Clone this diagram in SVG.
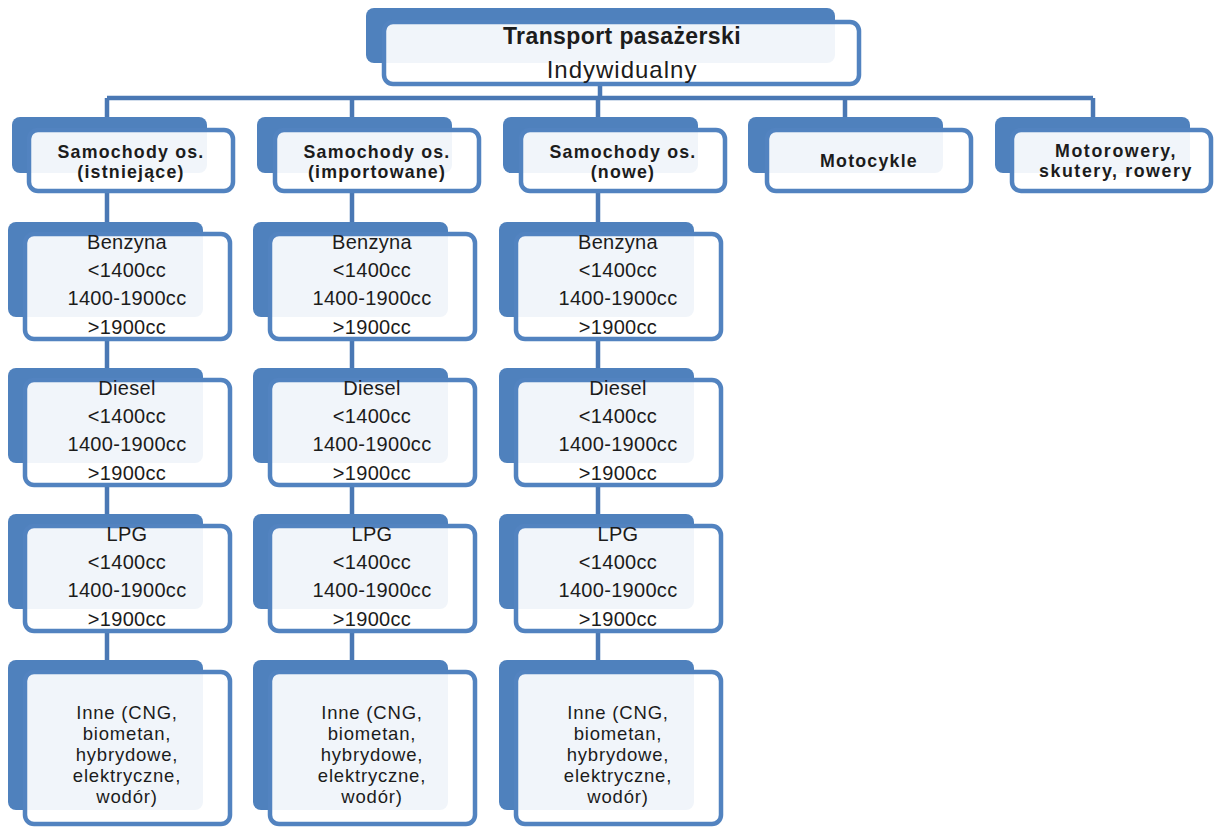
<svg xmlns="http://www.w3.org/2000/svg" width="1214" height="827" viewBox="0 0 1214 827">
<style>
.back{fill:#4f81bd}
.front{fill:#ffffff;fill-opacity:0.92;stroke:#5283c0;stroke-width:4.5}
.conn{stroke:#4a78b4;stroke-width:4.5;fill:none}
text{font-family:"Liberation Sans",Arial,sans-serif;fill:#1c1c1c;text-anchor:middle}
.t0{font-size:23px;font-weight:bold;letter-spacing:0.4px}
.t0r{font-size:24px;letter-spacing:1px}
.t1{font-size:17.8px;font-weight:bold;letter-spacing:1.2px}
.t1w{font-size:17.8px;font-weight:bold;letter-spacing:1.6px}
.tf{font-size:20px;letter-spacing:0.3px}
.ti{font-size:18.5px;letter-spacing:0.8px}
</style>
<rect width="1214" height="827" fill="#ffffff"/>
<g id="connectors">
<path class="conn" d="M600 84V98M107 98H1093M107 98V117M352 98V117M598 98V117M845 98V117M1093 98V117"/>
<path class="conn" d="M107 192V222M107 339V368M107 485V514M107 631V660"/>
<path class="conn" d="M352 192V222M352 339V368M352 485V514M352 631V660"/>
<path class="conn" d="M598 192V222M598 339V368M598 485V514M598 631V660"/>
</g>
<g id="top">
<rect class="back" x="366" y="8" width="469" height="55" rx="8"/>
<rect class="front" x="384" y="22" width="475" height="62" rx="9"/>
<text class="t0" x="622" y="44">Transport pasażerski</text>
<text class="t0r" x="622" y="78">Indywidualny</text>
</g>
<g id="l1-istniejace">
<rect class="back" x="12" y="117" width="195" height="56" rx="8"/>
<rect class="front" x="29" y="130" width="204" height="61" rx="9"/>
<text class="t1" x="131" y="158">Samochody os.</text>
<text class="t1" x="131" y="178">(istniejące)</text>
</g>
<g id="l1-importowane">
<rect class="back" x="257" y="117" width="195" height="56" rx="8"/>
<rect class="front" x="275" y="130" width="204" height="61" rx="9"/>
<text class="t1" x="377" y="158">Samochody os.</text>
<text class="t1" x="377" y="178">(importowane)</text>
</g>
<g id="l1-nowe">
<rect class="back" x="503" y="117" width="195" height="56" rx="8"/>
<rect class="front" x="521" y="130" width="204" height="61" rx="9"/>
<text class="t1" x="623" y="158">Samochody os.</text>
<text class="t1" x="623" y="178">(nowe)</text>
</g>
<g id="l1-motocykle">
<rect class="back" x="748" y="117" width="195" height="56" rx="8"/>
<rect class="front" x="767" y="130" width="204" height="61" rx="9"/>
<text class="t1" x="869" y="167">Motocykle</text>
</g>
<g id="l1-motorowery">
<rect class="back" x="995" y="117" width="195" height="56" rx="8"/>
<rect class="front" x="1012" y="130" width="199" height="61" rx="9"/>
<text class="t1w" x="1116" y="157">Motorowery,</text>
<text class="t1w" x="1116" y="177">skutery, rowery</text>
</g>
<!-- column 1 -->
<g id="c1-benzyna">
<rect class="back" x="8" y="222" width="195" height="95" rx="8"/>
<rect class="front" x="25" y="234" width="205" height="105" rx="9"/>
<text class="tf" x="127" y="249">Benzyna</text>
<text class="tf" x="127" y="277">&lt;1400cc</text>
<text class="tf" x="127" y="305">1400-1900cc</text>
<text class="tf" x="127" y="334">&gt;1900cc</text>
</g>
<g id="c1-diesel">
<rect class="back" x="8" y="368" width="195" height="95" rx="8"/>
<rect class="front" x="25" y="380" width="205" height="105" rx="9"/>
<text class="tf" x="127" y="395">Diesel</text>
<text class="tf" x="127" y="423">&lt;1400cc</text>
<text class="tf" x="127" y="451">1400-1900cc</text>
<text class="tf" x="127" y="480">&gt;1900cc</text>
</g>
<g id="c1-lpg">
<rect class="back" x="8" y="514" width="195" height="95" rx="8"/>
<rect class="front" x="25" y="526" width="205" height="105" rx="9"/>
<text class="tf" x="127" y="541">LPG</text>
<text class="tf" x="127" y="569">&lt;1400cc</text>
<text class="tf" x="127" y="597">1400-1900cc</text>
<text class="tf" x="127" y="626">&gt;1900cc</text>
</g>
<g id="c1-inne">
<rect class="back" x="8" y="660" width="195" height="150" rx="8"/>
<rect class="front" x="25" y="672" width="205" height="152" rx="9"/>
<text class="ti" x="127" y="719">Inne (CNG,</text>
<text class="ti" x="127" y="740">biometan,</text>
<text class="ti" x="127" y="761">hybrydowe,</text>
<text class="ti" x="127" y="782">elektryczne,</text>
<text class="ti" x="127" y="803">wodór)</text>
</g>
<!-- column 2 -->
<g id="c2-benzyna">
<rect class="back" x="253" y="222" width="195" height="95" rx="8"/>
<rect class="front" x="270" y="234" width="205" height="105" rx="9"/>
<text class="tf" x="372" y="249">Benzyna</text>
<text class="tf" x="372" y="277">&lt;1400cc</text>
<text class="tf" x="372" y="305">1400-1900cc</text>
<text class="tf" x="372" y="334">&gt;1900cc</text>
</g>
<g id="c2-diesel">
<rect class="back" x="253" y="368" width="195" height="95" rx="8"/>
<rect class="front" x="270" y="380" width="205" height="105" rx="9"/>
<text class="tf" x="372" y="395">Diesel</text>
<text class="tf" x="372" y="423">&lt;1400cc</text>
<text class="tf" x="372" y="451">1400-1900cc</text>
<text class="tf" x="372" y="480">&gt;1900cc</text>
</g>
<g id="c2-lpg">
<rect class="back" x="253" y="514" width="195" height="95" rx="8"/>
<rect class="front" x="270" y="526" width="205" height="105" rx="9"/>
<text class="tf" x="372" y="541">LPG</text>
<text class="tf" x="372" y="569">&lt;1400cc</text>
<text class="tf" x="372" y="597">1400-1900cc</text>
<text class="tf" x="372" y="626">&gt;1900cc</text>
</g>
<g id="c2-inne">
<rect class="back" x="253" y="660" width="195" height="150" rx="8"/>
<rect class="front" x="270" y="672" width="205" height="152" rx="9"/>
<text class="ti" x="372" y="719">Inne (CNG,</text>
<text class="ti" x="372" y="740">biometan,</text>
<text class="ti" x="372" y="761">hybrydowe,</text>
<text class="ti" x="372" y="782">elektryczne,</text>
<text class="ti" x="372" y="803">wodór)</text>
</g>
<!-- column 3 -->
<g id="c3-benzyna">
<rect class="back" x="499" y="222" width="195" height="95" rx="8"/>
<rect class="front" x="516" y="234" width="205" height="105" rx="9"/>
<text class="tf" x="618" y="249">Benzyna</text>
<text class="tf" x="618" y="277">&lt;1400cc</text>
<text class="tf" x="618" y="305">1400-1900cc</text>
<text class="tf" x="618" y="334">&gt;1900cc</text>
</g>
<g id="c3-diesel">
<rect class="back" x="499" y="368" width="195" height="95" rx="8"/>
<rect class="front" x="516" y="380" width="205" height="105" rx="9"/>
<text class="tf" x="618" y="395">Diesel</text>
<text class="tf" x="618" y="423">&lt;1400cc</text>
<text class="tf" x="618" y="451">1400-1900cc</text>
<text class="tf" x="618" y="480">&gt;1900cc</text>
</g>
<g id="c3-lpg">
<rect class="back" x="499" y="514" width="195" height="95" rx="8"/>
<rect class="front" x="516" y="526" width="205" height="105" rx="9"/>
<text class="tf" x="618" y="541">LPG</text>
<text class="tf" x="618" y="569">&lt;1400cc</text>
<text class="tf" x="618" y="597">1400-1900cc</text>
<text class="tf" x="618" y="626">&gt;1900cc</text>
</g>
<g id="c3-inne">
<rect class="back" x="499" y="660" width="195" height="150" rx="8"/>
<rect class="front" x="516" y="672" width="205" height="152" rx="9"/>
<text class="ti" x="618" y="719">Inne (CNG,</text>
<text class="ti" x="618" y="740">biometan,</text>
<text class="ti" x="618" y="761">hybrydowe,</text>
<text class="ti" x="618" y="782">elektryczne,</text>
<text class="ti" x="618" y="803">wodór)</text>
</g>
</svg>
